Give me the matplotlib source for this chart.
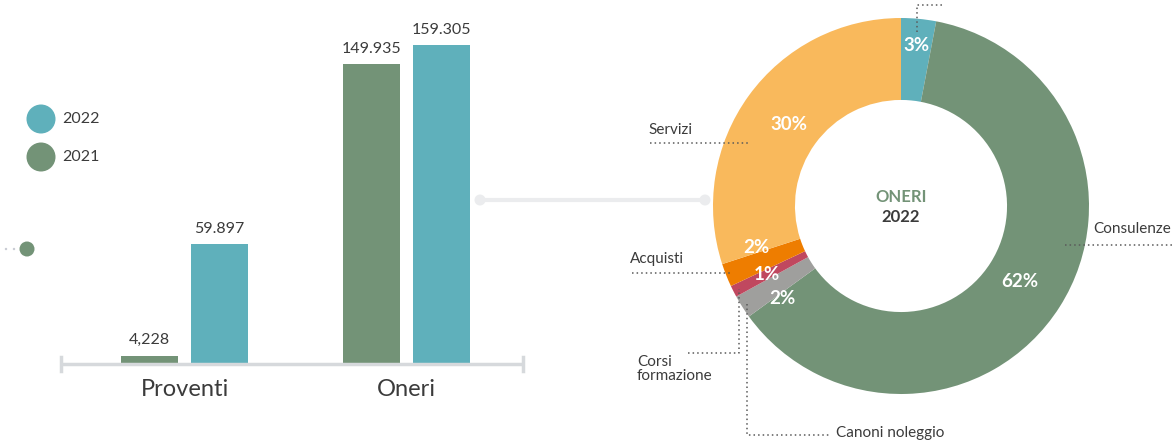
import numpy as np
import matplotlib
matplotlib.use("Agg")
import matplotlib.pyplot as plt
from matplotlib.patches import Circle

plt.rcParams["font.family"] = ["Lato", "DejaVu Sans"]

# ---- data -------------------------------------------------------------
categories = ["Proventi", "Oneri"]
values_2021 = [4.228, 149.935]
values_2022 = [59.897, 159.305]
labels_2021 = ["4,228", "149.935"]
labels_2022 = ["59.897", "159.305"]
legend_years = ["2022", "2021"]

# Oneri 2022 breakdown, percent shares (clockwise from the top)
oneri_shares = [3, 62, 2, 1, 2, 30]

# ---- style ------------------------------------------------------------
TEAL = "#5fb0bb"
GREEN = "#739377"
YELLOW = "#f9b95c"
ORANGE = "#ee7d00"
RED = "#c0485f"
GREY = "#9f9f9d"
TEXT = "#3b3b3b"
AXIS = "#d6d9dc"
CONN = "#ebecee"
DOT = "#5a5a5a"
donut_colors = [TEAL, GREEN, GREY, RED, ORANGE, YELLOW]

W, H = 1173, 442
fig = plt.figure(figsize=(W / 100, H / 100), dpi=100)


def px_axes(left, top, w, h):
    return fig.add_axes([left / W, 1 - (top + h) / H, w / W, h / H])


# ---- grouped bars -----------------------------------------------------
ax = px_axes(61, 0, 462, 364)
ax.patch.set_alpha(0)
x = np.arange(len(categories))
off, bw = 0.158, 0.257
b1 = ax.bar(x - off, values_2021, bw, color=GREEN)
b2 = ax.bar(x + off, values_2022, bw, color=TEAL)
ax.bar_label(b1, labels=labels_2021, padding=6, fontsize=11.5, color=TEXT)
ax.bar_label(b2, labels=labels_2022, padding=6, fontsize=11.5, color=TEXT)
ax.set_xlim(-0.5576, 1.528)
ax.set_ylim(0, 182)
for s in ax.spines.values():
    s.set_visible(False)
x0, x1 = ax.get_xlim()
ax.plot([x0, x1], [0, 0], color=AXIS, lw=2.5, clip_on=False, solid_capstyle="butt")
for xe in (x0, x1):
    ax.plot([xe, xe], [-3.6, 3.6], color=AXIS, lw=2.5, clip_on=False)
ax.set_xticks(x, categories, fontsize=17, color=TEXT)
ax.set_yticks([])
ax.tick_params(length=0, pad=11)

# ---- donut ------------------------------------------------------------
axd = px_axes(713, 18, 376, 376)
wedges, _ = axd.pie(oneri_shares, colors=donut_colors, startangle=90,
                    counterclock=False, radius=1,
                    wedgeprops=dict(width=0.436, linewidth=0))
axd.set_xlim(-1, 1)
axd.set_ylim(-1, 1)

mids = np.deg2rad([(w.theta1 + w.theta2) / 2 for w in wedges])
label_r = [0.86, 0.75, 0.80, 0.80, 0.80, 0.74]
label_ang = mids.copy()
# spread the three thin slices' labels apart
group_mid = mids[3]
for i in (2, 3, 4):
    label_ang[i] = group_mid + (mids[i] - group_mid) * 2.0
for v, r, a in zip(oneri_shares, label_r, label_ang):
    axd.text(r * np.cos(a), r * np.sin(a), f"{v}%", ha="center", va="center",
             color="white", fontsize=13.5, fontweight="bold")

axd.text(0, 0.05, "ONERI", ha="center", va="center", color=GREEN,
         fontsize=12, fontweight="bold")
axd.text(0, -0.06, "2022", ha="center", va="center", color=TEXT,
         fontsize=12, fontweight="bold")

# ---- overlay for legend, connector and leader lines -------------------
ov = px_axes(0, 0, W, H)
ov.set_xlim(0, W)
ov.set_ylim(H, 0)
ov.axis("off")
ov.patch.set_alpha(0)
ov.set_zorder(5)

for i, (yr, col) in enumerate(zip(legend_years, [TEAL, GREEN])):
    ov.add_patch(Circle((41, 119 + 38 * i), 14.5, color=col, lw=0))
    ov.text(62, 119 + 38 * i, yr, va="center", ha="left", fontsize=11.5, color=TEXT)

ov.add_patch(Circle((27, 249), 7.5, color=GREEN, lw=0))
for xd in (6, 14):
    ov.add_patch(Circle((xd, 249), 1.2, color="#c9cbd3", lw=0))

ov.plot([480, 705], [200, 200], color=CONN, lw=3, solid_capstyle="butt")
for xe in (480, 705):
    ov.add_patch(Circle((xe, 200), 5.5, color=CONN, lw=0))


def wedge_pt(i, r):
    a = mids[i]
    disp = axd.transData.transform((r * np.cos(a), r * np.sin(a)))
    return ov.transData.inverted().transform(disp)


dot_kw = dict(color=DOT, lw=1.1, linestyle=(0, (1, 2)))

# top slice leader
px, py = wedge_pt(0, 0.93)
ov.plot([px, px, px + 27], [py, 5, 5], **dot_kw)

# Servizi
ov.text(648, 130, "Servizi", va="center", ha="left", fontsize=11, color=TEXT)
ov.plot([650, 750], [143, 143], **dot_kw)

# Consulenze
ov.text(1093, 229, "Consulenze", va="center", ha="left", fontsize=11, color=TEXT)
ov.plot([1065, 1173], [245, 245], **dot_kw)

# Acquisti
px, py = wedge_pt(4, 0.97)
ov.text(630, py - 14, "Acquisti", va="center", ha="left", fontsize=11, color=TEXT)
ov.plot([632, px], [py, py], **dot_kw)

# Corsi formazione
px, py = wedge_pt(3, 0.97)
ov.text(637, 369, "Corsi\nformazione", va="center", ha="left", fontsize=11,
        color=TEXT, linespacing=1.0)
ov.plot([688, px, px], [353, 353, py], **dot_kw)

# Canoni noleggio
px, py = wedge_pt(2, 0.97)
ov.text(836, 433, "Canoni noleggio", va="center", ha="left", fontsize=11, color=TEXT)
ov.plot([px, px, 830], [py, 435, 435], **dot_kw)

fig.savefig("out.png", dpi=100)
